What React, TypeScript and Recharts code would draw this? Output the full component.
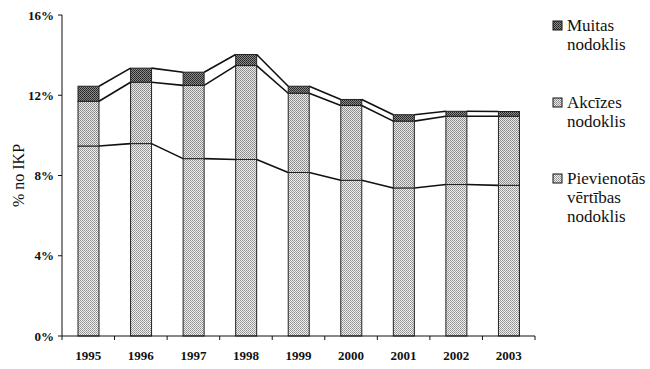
import React from 'react';
import { BarChart, Bar, XAxis, YAxis } from 'recharts';

const years = ['1995', '1996', '1997', '1998', '1999', '2000', '2001', '2002', '2003'];
const vatValues = [9.47, 9.59, 8.84, 8.8, 8.15, 7.76, 7.38, 7.55, 7.51];
const exciseValues = [2.23, 3.06, 3.65, 4.68, 3.95, 3.73, 3.33, 3.4, 3.44];
const customsValues = [0.75, 0.7, 0.66, 0.55, 0.35, 0.3, 0.32, 0.25, 0.24];
const yTicks = [0, 4, 8, 12, 16];
const legendItems = [
  { lines: ['Muitas', 'nodoklis'], fill: 'url(#lgDark)' },
  { lines: ['Akcīzes', 'nodoklis'], fill: 'url(#lgMid)' },
  { lines: ['Pievienotās', 'vērtības', 'nodoklis'], fill: 'url(#lgLight)' },
];

const keys = ['vat', 'excise', 'customs'];
const rows = years.map((y, i) => ({
  year: y,
  vat: vatValues[i],
  excise: exciseValues[i],
  customs: customsValues[i],
}));

const FONT = "'Liberation Serif', 'Times New Roman', Times, serif";
const xStore: Record<number, number> = {};

const cumOf = (row: any, level: number) => {
  let s = 0;
  for (let k = 0; k <= level; k++) s += row[keys[k]];
  return s;
};

const makeShape = (level: number, fill: string) => (props: any) => {
  const { x, y, width, height, payload, index } = props;
  xStore[index] = x;
  const seg = payload[keys[level]];
  const cum = cumOf(payload, level);
  const ppu = height / seg;
  const zero = y + cum * ppu;
  let link = null;
  if (index > 0 && xStore[index - 1] !== undefined) {
    const prevCum = cumOf(rows[index - 1], level);
    const prevY = zero - prevCum * ppu;
    link = (
      <line
        x1={xStore[index - 1] + width}
        y1={prevY}
        x2={x}
        y2={y}
        stroke="#111"
        strokeWidth={1.6}
      />
    );
  }
  return (
    <g>
      <rect x={x} y={y} width={width} height={height} fill={fill} stroke="#222" strokeWidth={1} />
      {link}
    </g>
  );
};

const XTick = (props: any) => {
  const { x, y, payload, index } = props;
  const off = payload && typeof payload.offset === 'number' && payload.offset > 0 ? payload.offset : 26.2;
  return (
    <g>
      <line x1={x - off} x2={x - off} y1={y} y2={y + 4} stroke="#111" strokeWidth={1} />
      {index === years.length - 1 && (
        <line x1={x + off} x2={x + off} y1={y} y2={y + 4} stroke="#111" strokeWidth={1} />
      )}
      <text x={x} y={y + 24} textAnchor="middle" style={{ fontFamily: FONT }} fontSize={13} fontWeight="bold" fill="#111">
        {payload.value}
      </text>
    </g>
  );
};

const YLabel = (props: any) => {
  const vb = props.viewBox || { x: 0, y: 15, width: 62, height: 321 };
  const cx = vb.x + 18;
  const cy = vb.y + vb.height / 2;
  return (
    <text
      x={cx}
      y={cy}
      transform={`rotate(-90, ${cx}, ${cy})`}
      textAnchor="middle"
      dominantBaseline="central"
      style={{ fontFamily: FONT }}
      fontSize={16}
      fill="#111"
    >
      % no IKP
    </text>
  );
};

const Patterns = ({ prefix }: { prefix: string }) => (
  <defs>
    <pattern id={`${prefix}Light`} width="2" height="2" patternUnits="userSpaceOnUse">
      <rect width="2" height="2" fill="#f0f0f0" />
      <rect x="0" y="0" width="1" height="1" fill="#909090" />
      <rect x="1" y="1" width="1" height="1" fill="#a0a0a0" />
    </pattern>
    <pattern id={`${prefix}Mid`} width="2" height="2" patternUnits="userSpaceOnUse">
      <rect width="2" height="2" fill="#eaeaea" />
      <rect x="0" y="0" width="1" height="1" fill="#858585" />
      <rect x="1" y="1" width="1" height="1" fill="#959595" />
    </pattern>
    <pattern id={`${prefix}Dark`} width="2" height="2" patternUnits="userSpaceOnUse">
      <rect width="2" height="2" fill="#8c8c8c" />
      <rect x="0" y="0" width="1" height="1" fill="#222" />
      <rect x="1" y="1" width="1" height="1" fill="#333" />
    </pattern>
  </defs>
);

export default function App() {
  return (
    <div style={{ position: 'absolute', left: 0, top: 0, width: 650, height: 369, background: '#fff', fontFamily: FONT }}>
      <BarChart
        width={650}
        height={369}
        data={rows}
        margin={{ top: 15, right: 115, bottom: 0, left: 0 }}
        barSize={21}
        style={{ fontFamily: FONT }}
      >
        <Patterns prefix="bp" />
        <XAxis
          dataKey="year"
          interval={0}
          height={33}
          tickLine={false}
          tickSize={0}
          tickMargin={0}
          axisLine={{ stroke: '#111', strokeWidth: 1 }}
          tick={<XTick />}
        />
        <YAxis
          width={62}
          domain={[0, 16]}
          ticks={yTicks}
          tickFormatter={(v: number) => `${v}%`}
          tickSize={4}
          tickMargin={4}
          tickLine={{ stroke: '#111' }}
          axisLine={{ stroke: '#111', strokeWidth: 1 }}
          tick={{ fontSize: 13, fontWeight: 'bold', fill: '#111', style: { fontFamily: FONT } }}
          label={<YLabel />}
        />
        <Bar dataKey="vat" stackId="a" isAnimationActive={false} shape={makeShape(0, 'url(#bpLight)')} />
        <Bar dataKey="excise" stackId="a" isAnimationActive={false} shape={makeShape(1, 'url(#bpMid)')} />
        <Bar dataKey="customs" stackId="a" isAnimationActive={false} shape={makeShape(2, 'url(#bpDark)')} />
      </BarChart>
      <div style={{ position: 'absolute', left: 550, top: 0, width: 100, height: 240 }}>
        <svg width={20} height={240} style={{ position: 'absolute', left: 0, top: 0 }}>
          <Patterns prefix="lg" />
          {legendItems.map((item, i) => {
            const top = [26, 103, 179][i];
            return <rect key={i} x={3} y={top - 5} width={9} height={9} fill={item.fill} stroke="#111" strokeWidth={1} />;
          })}
        </svg>
        {legendItems.map((item, i) => {
          const top = [26, 103, 179][i];
          return (
            <div
              key={i}
              style={{
                position: 'absolute',
                left: 17,
                top: top - 10,
                fontFamily: FONT,
                fontSize: 17,
                lineHeight: '19px',
                color: '#111',
                whiteSpace: 'nowrap',
              }}
            >
              {item.lines.map((ln, j) => (
                <div key={j}>{ln}</div>
              ))}
            </div>
          );
        })}
      </div>
    </div>
  );
}
